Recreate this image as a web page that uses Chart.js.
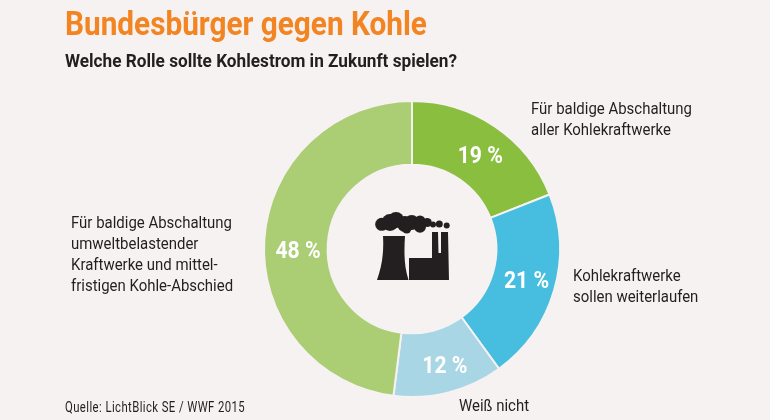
<!DOCTYPE html>
<html lang="de">
<head>
  <meta charset="UTF-8" />
  <title>Bundesbürger gegen Kohle</title>
  <script src="https://cdn.jsdelivr.net/npm/chart.js"></script>
  <style>
    html, body { margin: 0; padding: 0; background: #f6f2f2; }
    body { position: relative; width: 770px; height: 420px; overflow: hidden; font-family: Roboto, sans-serif; color: #231f20; }
    canvas { position: absolute; left: 0; top: 0; }
    .txt { position: absolute; white-space: nowrap; transform-origin: 0 0; }
    #title { left: 65px; top: 0; font-size: 34px; line-height: 46px; font-weight: 700; color: #f28521; transform: scaleX(0.875); }
    #sub { left: 65px; top: 49px; font-size: 19px; line-height: 24px; font-weight: 700; transform: scaleX(0.905); }
    .lab { font-size: 17px; line-height: 21px; transform: scaleX(0.88); }
    #src { left: 65px; top: 398px; font-size: 14px; line-height: 18px; letter-spacing: 0.5px; transform: scaleX(0.81); }
    #icon { position: absolute; left: 0; top: 0; }
  </style>
</head>
<body>
  <canvas id="donut" width="770" height="420"></canvas>

  <div class="txt" id="title">Bundesbürger gegen Kohle</div>
  <div class="txt" id="sub">Welche Rolle sollte Kohlestrom in Zukunft spielen?</div>

  <div class="txt lab" style="left:531px;top:97.5px">Für baldige Abschaltung<br>aller Kohlekraftwerke</div>
  <div class="txt lab" style="left:573px;top:264.5px">Kohlekraftwerke<br>sollen weiterlaufen</div>
  <div class="txt lab" style="left:459px;top:394.5px">Weiß nicht</div>
  <div class="txt lab" style="left:71px;top:211.5px">Für baldige Abschaltung<br>umweltbelastender<br>Kraftwerke und mittel-<br>fristigen Kohle-Abschied</div>
  <div class="txt" id="src">Quelle: LichtBlick SE / WWF 2015</div>

  <!-- Kraftwerk icon, page coordinates -->
  <svg id="icon" width="770" height="420" viewBox="0 0 770 420" fill="#231f20">
    <path d="M383 236 L405 236 C404 252 404 266 408.5 280 L377 280 C382 266 384 252 383 236 Z"/>
    <path d="M409 258 L432 258 L432 232 L438 232 L438.5 253 L441 253 L441 232 L448 232 L449 280 L409 280 Z"/>
    <circle cx="381.7" cy="224.3" r="6.5"/>
    <circle cx="390" cy="222.5" r="8.5"/>
    <circle cx="396" cy="220" r="8"/>
    <circle cx="405" cy="224" r="8"/>
    <circle cx="411.7" cy="222.5" r="7.5"/>
    <circle cx="420" cy="221" r="5.5"/>
    <circle cx="420" cy="226.7" r="6"/>
    <circle cx="406.7" cy="229" r="4.5"/>
    <circle cx="427.3" cy="222.5" r="4.5"/>
    <circle cx="433" cy="224.5" r="3"/>
    <circle cx="439.3" cy="224" r="3.5"/>
    <circle cx="446.7" cy="225.5" r="3"/>
  </svg>

  <script>
    // dx, dy nudge the percent label away from the middle of the ring
    const segments = [
      { label: 'Für baldige Abschaltung aller Kohlekraftwerke', value: 19, color: '#8abe3f', dx: 3, dy: 4 },
      { label: 'Kohlekraftwerke sollen weiterlaufen', value: 21, color: '#47bddf', dx: 3, dy: 1 },
      { label: 'Weiß nicht', value: 12, color: '#a9d6e5', dx: 4, dy: 6 },
      { label: 'Für baldige Abschaltung umweltbelastender Kraftwerke und mittelfristigen Kohle-Abschied', value: 48, color: '#abcd73', dx: 2, dy: 11 }
    ];

    const percentLabels = {
      id: 'percentLabels',
      afterDatasetsDraw(chart) {
        const ctx = chart.ctx;
        const arcs = chart.getDatasetMeta(0).data;
        arcs.forEach((arc, i) => {
          const pos = arc.tooltipPosition();
          ctx.save();
          ctx.translate(pos.x + segments[i].dx, pos.y + segments[i].dy);
          ctx.scale(0.92, 1);
          ctx.fillStyle = '#ffffff';
          ctx.font = 'bold 23px Roboto';
          ctx.textAlign = 'center';
          ctx.textBaseline = 'middle';
          ctx.fillText(segments[i].value + ' %', 0, 0);
          ctx.restore();
        });
      }
    };

    new Chart(document.getElementById('donut').getContext('2d'), {
      type: 'doughnut',
      data: {
        labels: segments.map(s => s.label),
        datasets: [{
          data: segments.map(s => s.value),
          backgroundColor: segments.map(s => s.color),
          borderColor: '#f6f2f2',
          borderWidth: 2
        }]
      },
      options: {
        responsive: false,
        animation: false,
        cutout: '57%',
        layout: { padding: { left: 263, right: 209, top: 100, bottom: 22 } },
        plugins: { legend: { display: false }, tooltip: { enabled: false } }
      },
      plugins: [percentLabels]
    });
  </script>
</body>
</html>
